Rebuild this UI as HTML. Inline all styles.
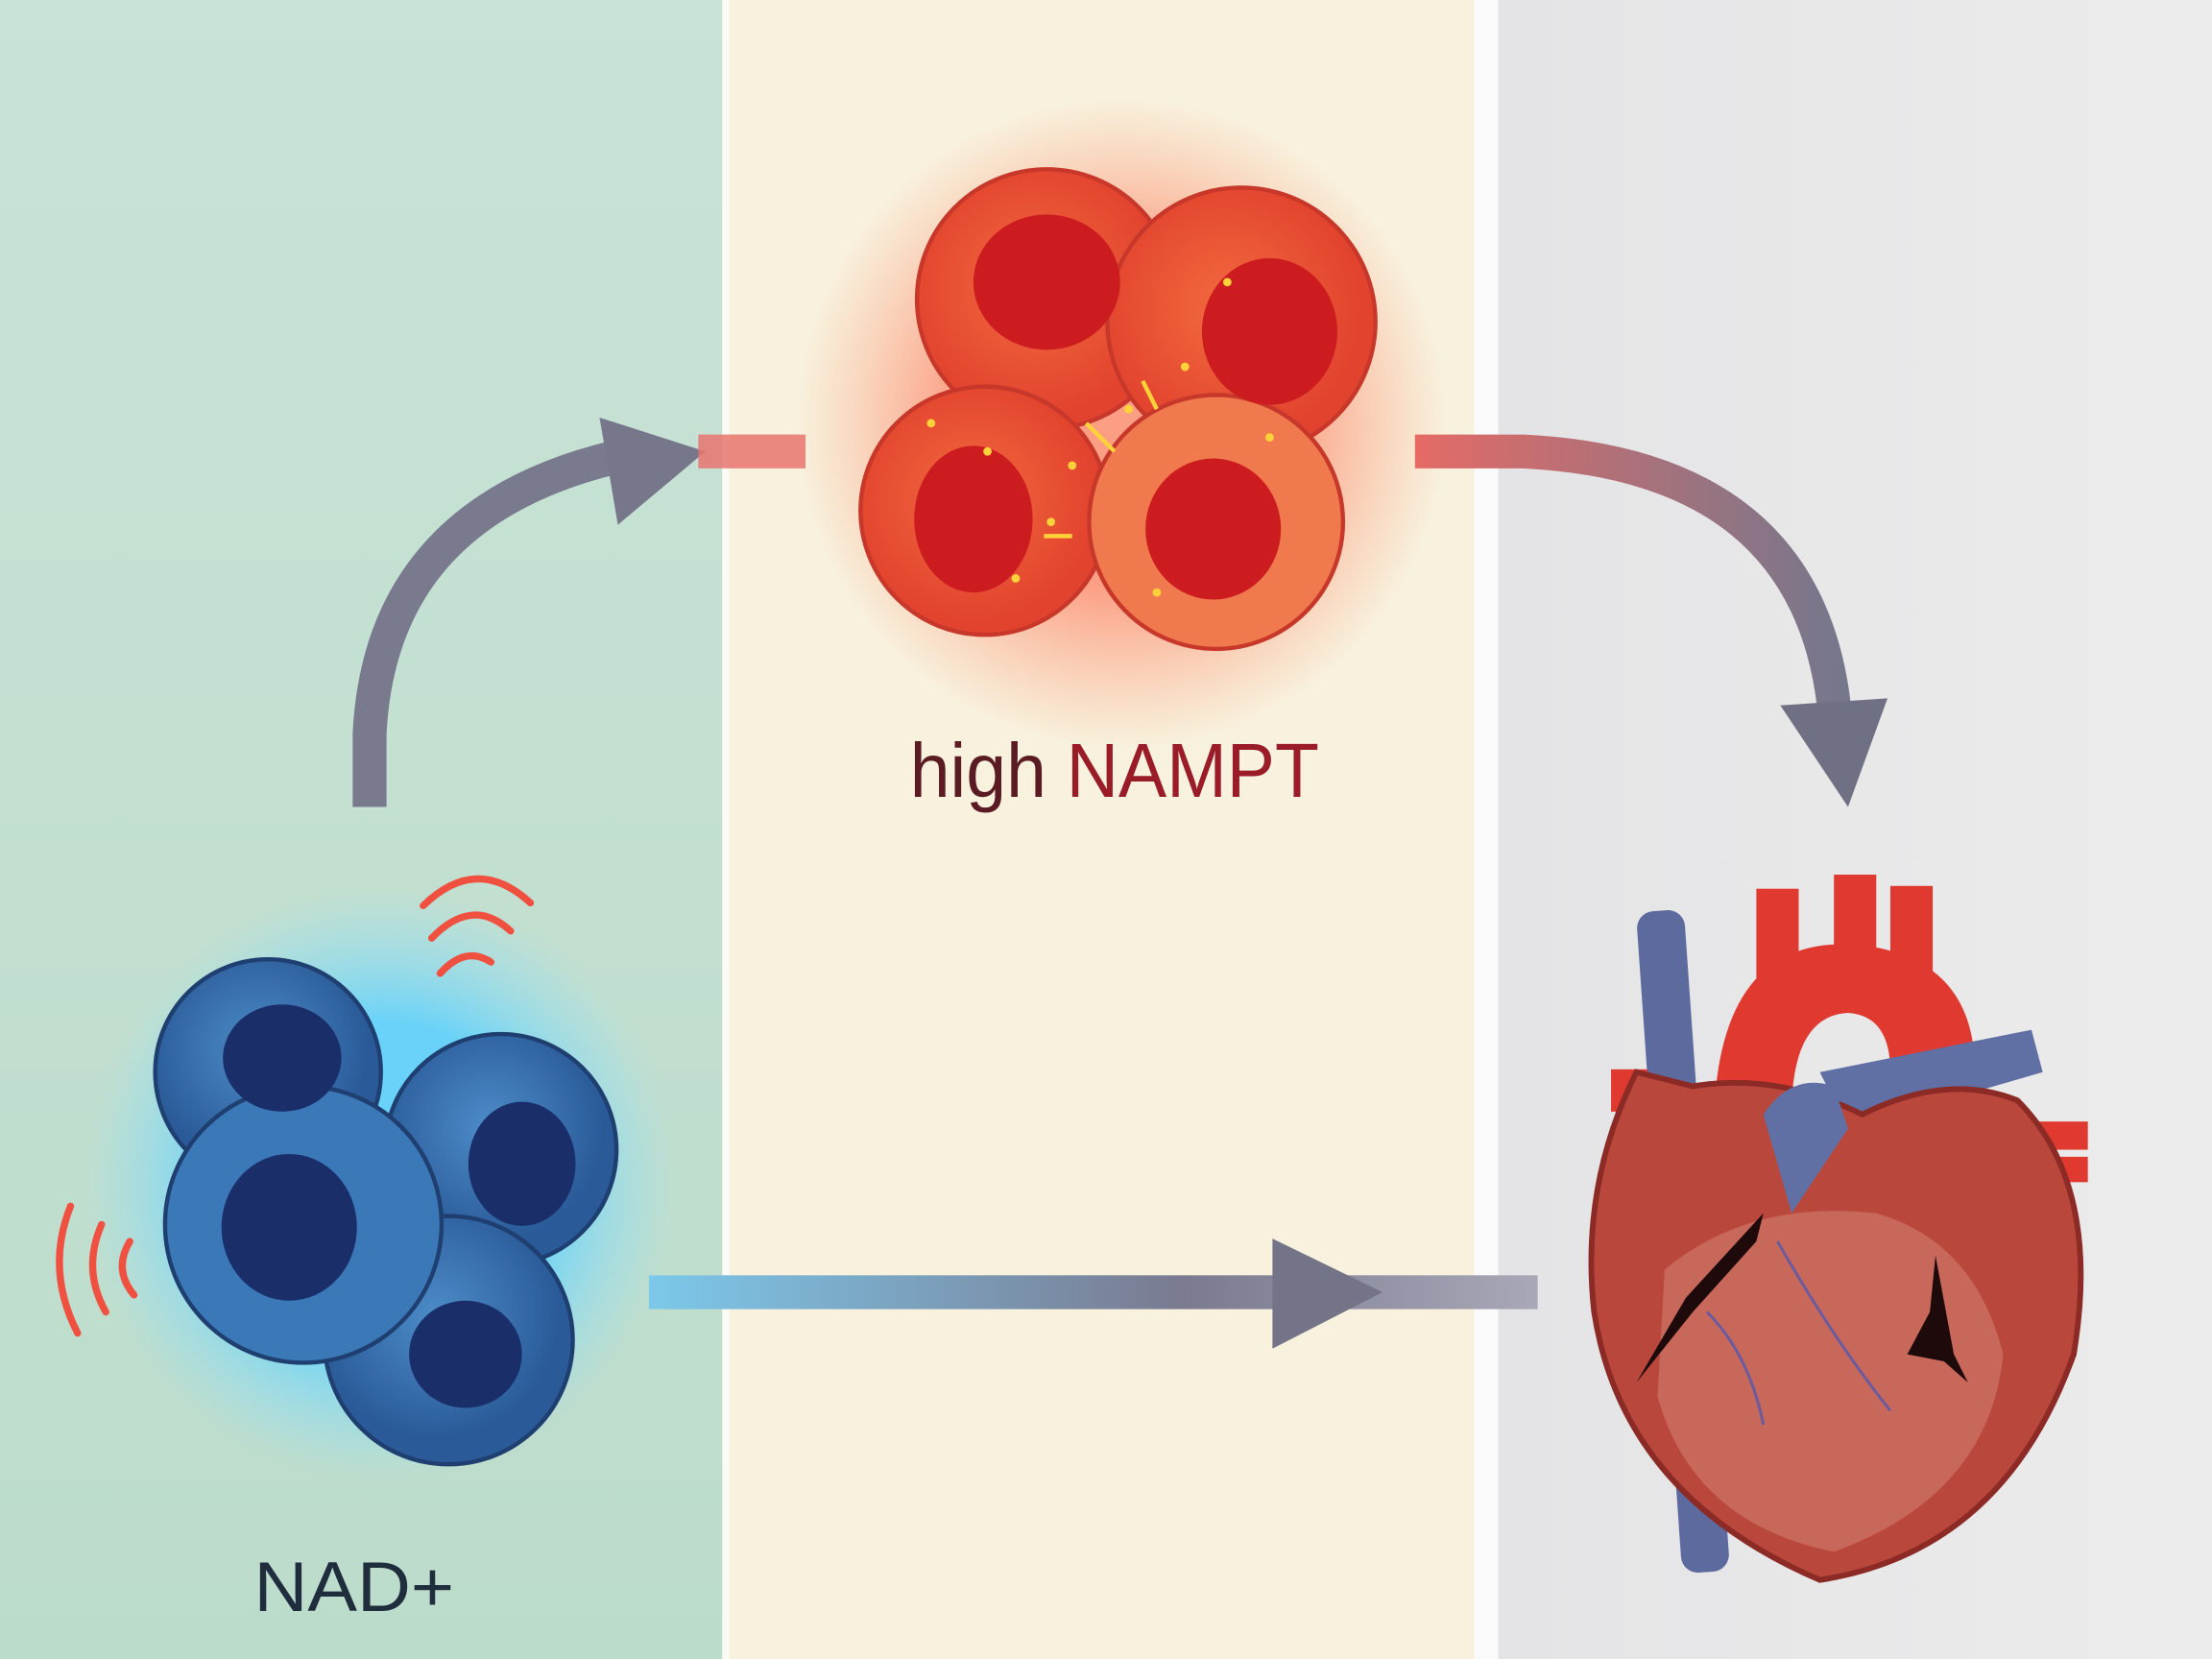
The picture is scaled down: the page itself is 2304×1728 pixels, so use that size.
<!DOCTYPE html>
<html><head><meta charset="utf-8"><style>
html,body{margin:0;padding:0;width:2304px;height:1728px;overflow:hidden;background:#eee}
svg{display:block}
</style></head><body>
<svg width="2304" height="1728" viewBox="0 0 1568 1176" preserveAspectRatio="none" xmlns="http://www.w3.org/2000/svg">
<defs>
<linearGradient id="gL" x1="0" y1="0" x2="0" y2="1"><stop offset="0" stop-color="#c9e3d6"/><stop offset="1" stop-color="#bcdccb"/></linearGradient>
<linearGradient id="gR" x1="0" y1="0" x2="1" y2="0"><stop offset="0" stop-color="#e4e4e6"/><stop offset="1" stop-color="#ececec"/></linearGradient>
<radialGradient id="redGlow"><stop offset="0.5" stop-color="#ff5a3a" stop-opacity="0.55"/><stop offset="1" stop-color="#ff7a50" stop-opacity="0"/></radialGradient>
<radialGradient id="blueGlow"><stop offset="0.55" stop-color="#5ad0ff" stop-opacity="0.85"/><stop offset="1" stop-color="#8fe0ff" stop-opacity="0"/></radialGradient>
<radialGradient id="rc" cx="0.45" cy="0.45"><stop offset="0" stop-color="#f26a3e"/><stop offset="1" stop-color="#e2432e"/></radialGradient>
<radialGradient id="bc" cx="0.45" cy="0.4"><stop offset="0" stop-color="#4c8cc8"/><stop offset="1" stop-color="#2a5a98"/></radialGradient>
<linearGradient id="botArr" x1="0" x2="1"><stop offset="0" stop-color="#7cc8ea"/><stop offset="0.6" stop-color="#7a7a90"/><stop offset="1" stop-color="#a8a8b8"/></linearGradient>
<linearGradient id="rArr" x1="0" x2="1"><stop offset="0" stop-color="#e46a66"/><stop offset="1" stop-color="#77778c"/></linearGradient>
</defs>
<rect x="0" y="0" width="512" height="1176" fill="url(#gL)"/>
<rect x="512" y="0" width="5" height="1176" fill="#fbfbf6"/>
<rect x="517" y="0" width="528" height="1176" fill="#f8f1dd"/>
<rect x="1045" y="0" width="17" height="1176" fill="#fafafa"/>
<rect x="1062" y="0" width="506" height="1176" fill="url(#gR)"/>

<path d="M262 572 L262 520 Q270 360 445 322" fill="none" stroke="#7a7a8e" stroke-width="24"/>
<polygon points="425,296 500,320 438,372" fill="#77778c"/>
<rect x="495" y="308" width="76" height="24" fill="#e8746e" opacity="0.85"/>

<path d="M1003 320 L1080 320 Q1280 330 1300 500" fill="none" stroke="url(#rArr)" stroke-width="24"/>
<polygon points="1262,500 1338,495 1310,572" fill="#707084"/>

<rect x="460" y="904" width="630" height="24" fill="url(#botArr)"/>
<polygon points="902,878 980,916 902,956" fill="#747488"/>

<circle cx="795" cy="300" r="230" fill="url(#redGlow)"/>
<g stroke="#c8382a" stroke-width="3">
<circle cx="742" cy="212" r="92" fill="url(#rc)"/>
<circle cx="880" cy="228" r="95" fill="url(#rc)"/>
<circle cx="698" cy="362" r="88" fill="url(#rc)"/>
<circle cx="862" cy="370" r="90" fill="#f07a4e"/>
</g>
<g fill="#cc1c20"><ellipse cx="742" cy="200" rx="52" ry="48"/><ellipse cx="900" cy="235" rx="48" ry="52"/><ellipse cx="690" cy="368" rx="42" ry="52"/><ellipse cx="860" cy="375" rx="48" ry="50"/></g>
<g fill="#ffd23a"><circle cx="800" cy="290" r="3"/><circle cx="760" cy="330" r="3"/><circle cx="840" cy="260" r="3"/><circle cx="720" cy="410" r="3"/><circle cx="900" cy="310" r="3"/><circle cx="660" cy="300" r="3"/><circle cx="870" cy="200" r="3"/><circle cx="700" cy="320" r="3"/><circle cx="745" cy="370" r="3"/><circle cx="820" cy="420" r="3"/></g>
<path d="M770 300 L790 320 M810 270 L820 290 M740 380 L760 380" stroke="#ffd23a" stroke-width="3"/>

<text x="645" y="565" font-family="Liberation Sans, sans-serif" font-size="54" fill="#5a1c22" textLength="290" lengthAdjust="spacingAndGlyphs">high <tspan fill="#9a1c28">NAMPT</tspan></text>

<circle cx="270" cy="840" r="210" fill="url(#blueGlow)"/>
<g stroke="#1e3f70" stroke-width="3">
<circle cx="190" cy="760" r="80" fill="url(#bc)"/>
<circle cx="355" cy="815" r="82" fill="url(#bc)"/>
<circle cx="318" cy="950" r="88" fill="url(#bc)"/>
<circle cx="215" cy="868" r="98" fill="#3b78b8"/>
</g>
<g fill="#1a2f6a"><ellipse cx="200" cy="750" rx="42" ry="38"/><ellipse cx="370" cy="825" rx="38" ry="44"/><ellipse cx="205" cy="870" rx="48" ry="52"/><ellipse cx="330" cy="960" rx="40" ry="38"/></g>
<g fill="none" stroke="#f05040" stroke-width="5" stroke-linecap="round">
<path d="M312 690 Q330 670 348 682"/><path d="M306 665 Q335 635 362 660"/><path d="M300 642 Q338 605 376 640"/>
<path d="M95 918 Q80 900 92 880"/><path d="M75 930 Q58 900 72 868"/><path d="M55 945 Q32 900 50 855"/>
</g>

<text x="180" y="1142" font-family="Liberation Sans, sans-serif" font-size="50" fill="#1f2d3d" textLength="142" lengthAdjust="spacingAndGlyphs">NAD+</text>

<g>
<rect x="1176" y="645" width="34" height="470" rx="12" fill="#5c6a9e" transform="rotate(-4 1193 880)"/>
<rect x="1245" y="630" width="30" height="70" fill="#e03a30"/>
<rect x="1300" y="620" width="30" height="70" fill="#e03a30"/>
<rect x="1340" y="628" width="30" height="70" fill="#e03a30"/>
<path d="M1215 790 Q1220 660 1320 670 Q1400 680 1400 760 L1340 760 Q1340 720 1310 718 Q1270 720 1270 790 Z" fill="#e03a30"/>
<path d="M1290 760 L1440 730 L1448 760 L1310 800 Z" fill="#6070a4"/>
<rect x="1440" y="795" width="40" height="20" fill="#e03a30"/>
<rect x="1440" y="820" width="40" height="18" fill="#e03a30"/>
<rect x="1142" y="758" width="26" height="30" fill="#e03a30"/>
<path d="M1160 760 Q1120 840 1130 930 Q1150 1060 1290 1120 Q1420 1100 1470 960 Q1490 840 1430 780 Q1380 760 1320 790 Q1260 760 1200 770 Z" fill="#b9473c" stroke="#8c2a26" stroke-width="4"/>
<path d="M1180 900 Q1240 850 1330 860 Q1400 880 1420 960 Q1410 1060 1300 1100 Q1200 1080 1175 990 Z" fill="#c8685a"/>
<path d="M1160 980 L1195 920 L1250 860 L1245 880 L1200 930 Z" fill="#1e0a0a"/>
<path d="M1372 890 L1385 960 L1395 980 L1378 965 L1352 960 L1368 930 Z" fill="#1e0a0a"/>
<path d="M1210 930 Q1240 960 1250 1010 M1260 880 Q1300 950 1340 1000" fill="none" stroke="#6a5aa0" stroke-width="2"/>
<path d="M1250 790 Q1270 760 1300 770 L1310 800 Q1290 830 1270 860 Z" fill="#6070a4"/>
</g>
</svg>
</body></html>
